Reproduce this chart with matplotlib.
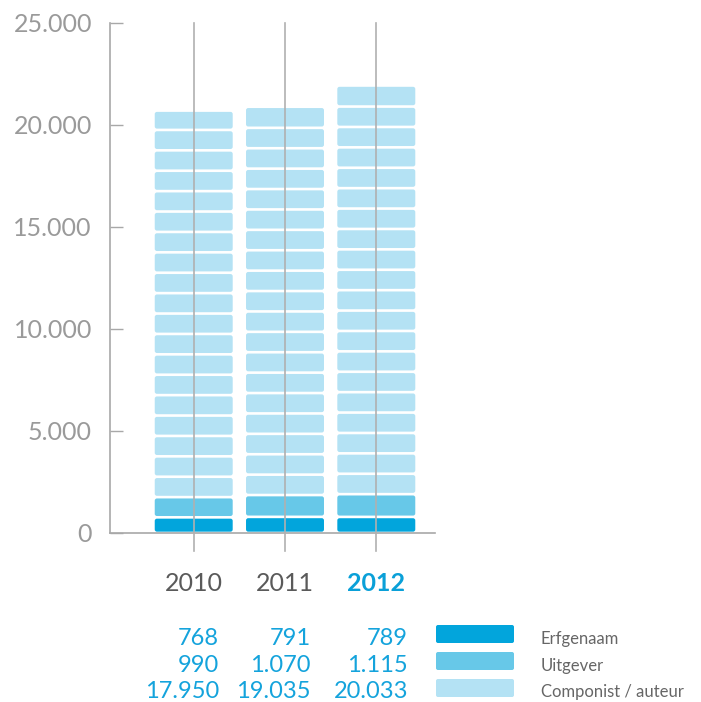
import matplotlib.pyplot as plt
from matplotlib.patches import FancyBboxPatch

plt.rcParams["font.family"] = ["Lato", "DejaVu Sans"]

years = ["2010", "2011", "2012"]
erfgenaam = [768, 791, 789]
uitgever = [990, 1070, 1115]
componist = [17950, 19035, 20033]
# bar heights as drawn in the picture (2010 shows 19 blocks, ~18.950)
componist_bar = [18950, 19035, 20033]
series_names = ["Erfgenaam", "Uitgever", "Componist / auteur"]
colors = ["#02a5dc", "#67c8e8", "#b4e2f4"]
yticks = [0, 5000, 10000, 15000, 20000, 25000]

W, H = 701, 702
fig = plt.figure(figsize=(W / 100, H / 100), dpi=100)
ax = fig.add_axes([110 / W, 1 - 533 / H, 325 / W, 510 / H])
ax.set_xlim(-0.917, 2.643)
ax.set_ylim(0, 25000)

for s in ["top", "right"]:
    ax.spines[s].set_visible(False)
for s in ["left", "bottom"]:
    ax.spines[s].set_color("#a8a8a8")
    ax.spines[s].set_linewidth(1.2)

bar_w = 0.854
gap = 65
xpx = (2.643 + 0.917) / 325
ypx = 25000 / 510
asp = ypx / xpx
rnd = 2.2 * xpx


def draw_stack(x, start, value, color):
    # split in blocks of 1000; a small rest is merged into the last block
    n_full = int(value // 1000)
    chunks = [1000] * n_full
    rest = value - n_full * 1000
    if rest > 3 * gap or not chunks:
        chunks.append(rest)
    else:
        chunks[-1] += rest
    base = start
    for c in chunks:
        p = FancyBboxPatch((x - bar_w / 2, base + gap), bar_w, c - 2 * gap,
                           boxstyle=f"round,pad=0,rounding_size={rnd}",
                           mutation_aspect=asp, facecolor=color,
                           edgecolor="none", zorder=2)
        ax.add_patch(p)
        base += c


for i in range(len(years)):
    draw_stack(i, 0, erfgenaam[i], colors[0])
    draw_stack(i, erfgenaam[i], uitgever[i], colors[1])
    draw_stack(i, erfgenaam[i] + uitgever[i], componist_bar[i], colors[2])
    ax.plot([i, i], [-900, 25000], color="#b0b0b0", lw=1.2, zorder=3,
            clip_on=False)


def fmt(v):
    return f"{v:,}".replace(",", ".")


ax.set_yticks(yticks)
ax.set_yticklabels([fmt(v) for v in yticks])
ax.tick_params(axis="y", direction="in", length=9.5, width=1, color="#a8a8a8",
               pad=13, labelsize=18, labelcolor="#9a9a9a")
ax.set_xticks([])

for i, y in enumerate(years):
    last = i == len(years) - 1
    ax.text(i, -2843, y, ha="center", va="baseline", fontsize=18,
            color="#0aa0d8" if last else "#5a5a5a",
            fontweight="bold" if last else "normal", clip_on=False)

# value table
x_right = [219, 311, 408]
baselines = [645, 672, 698]
rows = [erfgenaam, uitgever, componist]
for r, vals in enumerate(rows):
    for i, v in enumerate(vals):
        fig.text(x_right[i] / W, 1 - baselines[r] / H, fmt(v), ha="right",
                 va="baseline", fontsize=17, color="#14a3dc")

# legend
for r, name in enumerate(series_names):
    top = 625 + r * 27
    sw = FancyBboxPatch((436 / W, 1 - (top + 18) / H), 78 / W, 18 / H,
                        boxstyle=f"round,pad=0,rounding_size={2 / W}",
                        mutation_aspect=W / H, facecolor=colors[r],
                        edgecolor="none", transform=fig.transFigure)
    fig.add_artist(sw)
    fig.text(541 / W, 1 - (baselines[r] - 1) / H, name, ha="left",
             va="baseline", fontsize=12, color="#666666")

fig.savefig("out.png", dpi=100)
